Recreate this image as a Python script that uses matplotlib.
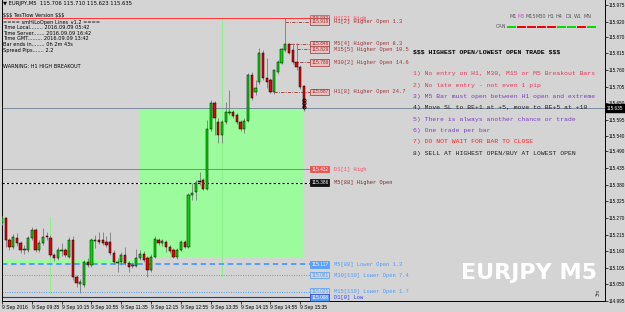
import numpy as np
import matplotlib.pyplot as plt
from matplotlib.patches import Rectangle
from matplotlib.lines import Line2D
from matplotlib import font_manager

plt.rcParams['text.parse_math'] = False

# EURJPY M5 bars, 9 Sep 2016 08:55 .. 15:40
opens = [115.253, 115.270, 115.197, 115.174, 115.204, 115.187, 115.164, 115.164, 115.204, 115.230,
         115.164, 115.187, 115.210, 115.204, 115.147, 115.137, 115.160, 115.164, 115.141, 115.197,
         115.074, 115.051, 115.048, 115.124, 115.114, 115.194, 115.197, 115.197, 115.190, 115.190,
         115.154, 115.121, 115.124, 115.147, 115.121, 115.111, 115.111, 115.137, 115.151, 115.137,
         115.098, 115.141, 115.197, 115.187, 115.190, 115.174, 115.164, 115.141, 115.164, 115.190,
         115.174, 115.346, 115.356, 115.392, 115.396, 115.366, 115.564, 115.651, 115.588, 115.545,
         115.588, 115.617, 115.621, 115.611, 115.588, 115.564, 115.591, 115.743, 115.687, 115.720,
         115.816, 115.733, 115.727, 115.687, 115.753, 115.783, 115.826, 115.846, 115.826, 115.786,
         115.770, 115.706]
highs = [115.276, 115.273, 115.204, 115.217, 115.220, 115.194, 115.180, 115.210, 115.240, 115.237,
         115.197, 115.237, 115.223, 115.213, 115.154, 115.174, 115.187, 115.170, 115.207, 115.210,
         115.081, 115.068, 115.131, 115.137, 115.204, 115.213, 115.223, 115.223, 115.210, 115.223,
         115.164, 115.137, 115.157, 115.174, 115.127, 115.124, 115.167, 115.164, 115.160, 115.144,
         115.151, 115.210, 115.204, 115.200, 115.197, 115.180, 115.170, 115.170, 115.197, 115.197,
         115.353, 115.386, 115.396, 115.422, 115.402, 115.594, 115.660, 115.657, 115.601, 115.594,
         115.654, 115.694, 115.627, 115.617, 115.594, 115.601, 115.750, 115.753, 115.727, 115.833,
         115.826, 115.800, 115.733, 115.760, 115.793, 115.833, 115.932, 115.849, 115.849, 115.849,
         115.776, 115.710]
lows = [115.247, 115.174, 115.164, 115.167, 115.177, 115.154, 115.151, 115.157, 115.197, 115.157,
        115.157, 115.180, 115.197, 115.141, 115.127, 115.131, 115.144, 115.141, 115.137, 115.064,
        115.041, 115.021, 115.041, 115.107, 115.107, 115.170, 115.184, 115.180, 115.174, 115.147,
        115.117, 115.091, 115.114, 115.114, 115.091, 115.104, 115.107, 115.131, 115.124, 115.074,
        115.091, 115.137, 115.180, 115.177, 115.157, 115.154, 115.137, 115.134, 115.160, 115.170,
        115.170, 115.329, 115.329, 115.379, 115.362, 115.362, 115.558, 115.545, 115.518, 115.518,
        115.581, 115.611, 115.601, 115.581, 115.558, 115.551, 115.588, 115.660, 115.677, 115.713,
        115.726, 115.700, 115.684, 115.680, 115.747, 115.780, 115.819, 115.813, 115.780, 115.760,
        115.697, 115.623]
closes = [115.270, 115.197, 115.174, 115.207, 115.187, 115.164, 115.167, 115.204, 115.230, 115.164,
          115.187, 115.207, 115.207, 115.147, 115.137, 115.164, 115.164, 115.147, 115.197, 115.074,
          115.055, 115.058, 115.124, 115.114, 115.197, 115.197, 115.190, 115.187, 115.180, 115.154,
          115.124, 115.124, 115.147, 115.121, 115.107, 115.114, 115.137, 115.151, 115.131, 115.098,
          115.141, 115.200, 115.187, 115.194, 115.174, 115.160, 115.141, 115.164, 115.190, 115.174,
          115.346, 115.353, 115.386, 115.389, 115.366, 115.564, 115.651, 115.601, 115.545, 115.588,
          115.621, 115.621, 115.607, 115.588, 115.564, 115.591, 115.743, 115.667, 115.700, 115.816,
          115.733, 115.720, 115.687, 115.760, 115.786, 115.829, 115.846, 115.816, 115.786, 115.770,
          115.703, 115.635]

time_labels = ['9 Sep 2016', '9 Sep 09:35', '9 Sep 10:15', '9 Sep 10:55', '9 Sep 11:35', '9 Sep 12:15',
               '9 Sep 12:55', '9 Sep 13:35', '9 Sep 14:15', '9 Sep 14:55', '9 Sep 15:35']
time_label_bars = [0, 8, 16, 24, 32, 40, 48, 56, 64, 72, 80]

price_ticks = [115.975, 115.920, 115.870, 115.815, 115.760, 115.705, 115.650, 115.595, 115.540,
               115.490, 115.435, 115.380, 115.325, 115.270, 115.215, 115.160, 115.105, 115.050, 114.995]
bid = 115.635

level_names = ['H1[2] High', 'H1[2] Higher Open 1.3', 'M5[4] Higher Open 8.3', 'M15[5] Higher Open 10.5',
               'M30[2] Higher Open 14.6', 'H1[8] Higher Open 24.7', 'D1[1] High', 'M5[88] Higher Open',
               'M5[88] Lower Open 1.3', 'M30[110] Lower Open 7.4', 'M15[119] Lower Open 1.7', 'D1[0] Low']
level_prices = [115.932, 115.919, 115.846, 115.829, 115.786, 115.687, 115.432, 115.386,
                115.117, 115.081, 115.025, 115.008]
level_start = [0, 76, 77, 79, 78, 73, 0, 0, 0, 0, 0, 0]

zone_top, zone_bottom, zone_start = 115.635, 115.137, 37.1
strip_top, strip_bottom = 115.134, 115.121
vlines_bar = [13, 59]
vlines_from = [115.021, 115.078]
vlines_to = [115.273, 115.932]

rules = ['1) No entry on H1, M30, M15 or M5 Breakout Bars',
         '2) No late entry - not even 1 pip',
         '3) M5 Bar must open between H1 open and extreme',
         '4) Move SL to BE+1 at +5, move to BE+5 at +10',
         '5) There is always another chance or trade',
         '6) One trade per bar',
         '7) DO NOT WAIT FOR BAR TO CLOSE',
         '8) SELL AT HIGHEST OPEN/BUY AT LOWEST OPEN']

info_lines = ['$$$ TesTlow Version $$$', '==== smHiLoOpen Lines_v1.2 ====',
              'Time Local........ 2016.09.09 05:42', 'Time Server....... 2016.09.09 16:42',
              'Time GMT......... 2016.09.09 13:42', 'Bar ends in........ 0h 2m 43s',
              'Spread Pips....... 2.2']

tf_names = ['M1', 'M5', 'M15', 'M30', 'H1', 'H4', 'D1', 'W1', 'MN']
can_up = [1, 0, 0, 0, 0, 1, 1, 0, 1]

BG = '#d4d4d4'
W, H = 625, 312
installed = {f.name for f in font_manager.fontManager.ttflist}
NARROW = 'Liberation Sans Narrow' if 'Liberation Sans Narrow' in installed else 'DejaVu Sans'
SMALL = 'Liberation Sans'


def b(px):
    # screen x pixel -> bar index
    return (px - 1.7) / 3.73


def fx(px):
    return px / W


def fy(py):
    return 1 - py / H


fig = plt.figure(figsize=(6.25, 3.12), dpi=100, facecolor=BG)
ax = fig.add_axes([fx(2), fy(301), 603 / W, 301 / H])
ax.set_facecolor(BG)
ax.set_xlim(b(2), b(605))
ax.set_ylim(114.995, 115.9916)

o = np.array(opens)
c = np.array(closes)
x = np.arange(len(o))
up = c >= o

# zones
ax.add_patch(Rectangle((zone_start, zone_bottom), len(o) - 1 - zone_start, zone_top - zone_bottom,
                       facecolor='#9cfb9c', edgecolor='none', zorder=1))
ax.add_patch(Rectangle((b(2), strip_bottom), zone_start - b(2), strip_top - strip_bottom,
                       facecolor='#9cfb9c', edgecolor='none', zorder=1))
for vb, v0, v1 in zip(vlines_bar, vlines_from, vlines_to):
    ax.plot([vb, vb], [v0, v1], color='#8cf08c', lw=0.8, zorder=1.5)

ax.axhline(bid, color='#7d8ea2', lw=0.7, zorder=2)

# price levels
dd = (0, (4, 1.5, 1, 1.5))
lv_color = ['#ff3030', '#a03232', '#a03232', '#a03232', '#a03232', '#a03232',
            '#f04848', 'black', '#4a9aff', '#4a9aff', '#4a9aff', '#2233cc']
lv_ls = ['-', dd, dd, dd, dd, dd, '-', (0, (2, 2)), (0, (3, 2)), (0, (1, 1.5)), (0, (1, 1.5)), '-']
lv_lw = [0.7, 0.6, 0.6, 0.6, 0.6, 0.6, 0.6, 0.8, 1.3, 0.7, 0.7, 0.8]
lv_txt = ['#ff3a5a', '#a03232', '#a03232', '#a03232', '#a03232', '#a03232',
          '#ff4a6a', '#802828', '#4a9aff', '#4a9aff', '#4a9aff', '#3344ee']
box_fc = ['#e8c0c0', '#e8c0c0', '#e8c0c0', '#e8c0c0', '#e8c0c0', '#e8c0c0',
          '#f05050', '#101010', '#5aa0ff', '#d4d4d4', '#d4d4d4', '#5aa0ff']
box_tc = ['#a03232', '#a03232', '#a03232', '#a03232', '#a03232', '#a03232',
          'white', 'white', 'white', '#4a9aff', '#4a9aff', 'white']
end = b(310)
for i, (name, p, st) in enumerate(zip(level_names, level_prices, level_start)):
    x0 = b(2) if st == 0 else st
    if i == 7:
        ax.plot([x0, end], [p, p], color='white', lw=0.8, zorder=2)
    ax.plot([x0, end], [p, p], color=lv_color[i], ls=lv_ls[i], lw=lv_lw[i], zorder=2.5)
    ax.text(b(311), p, f'{p:.3f}', fontsize=3.4, color=box_tc[i], va='center', ha='left',
            family=SMALL, zorder=6,
            bbox=dict(boxstyle='square,pad=0.2', fc=box_fc[i], ec=lv_color[i], lw=0.5))
    ax.text(b(334), p, name, fontsize=3.9, color=lv_txt[i], va='center', ha='left',
            family='Liberation Mono', zorder=6)

# candles
ax.vlines(x, lows, highs, color='#7a7a7a', lw=0.6, zorder=3)
ax.bar(x, np.maximum(np.abs(c - o), 0.0012), bottom=np.minimum(o, c), width=0.62,
       color=np.where(up, '#00dd00', '#ee0000'), edgecolor='black', lw=0.35, zorder=4)
ax.plot([x[-1]] * 3, [115.660, 115.649, 115.638], 'o', mfc='none', mec='black', ms=2.3, mew=0.6, zorder=5)

# axes styling
for s in ['left', 'right', 'bottom']:
    ax.spines[s].set_color('black')
    ax.spines[s].set_linewidth(0.7)
ax.spines['top'].set_visible(False)
ax.yaxis.tick_right()
ax.set_yticks(price_ticks)
ax.set_yticklabels([f'{t:.3f}' for t in price_ticks], family=SMALL, fontsize=3.3)
ax.set_xticks(time_label_bars)
ax.set_xticklabels(time_labels, ha='left', family=SMALL, fontsize=3.6)
ax.tick_params(axis='both', length=1.8, width=0.5, pad=1.0, colors='black')

fig.text(fx(607), fy(108), f'{bid:.3f}', fontsize=3.3, family=SMALL, color='white', va='center', ha='left',
         bbox=dict(boxstyle='square,pad=0.3', fc='black', ec='black'))

# header and info block
fig.text(fx(3), fy(4), '▼ EURJPY,M5  115.706 115.710 115.623 115.635', fontsize=3.8, va='center')
for k, line in enumerate(info_lines):
    fig.text(fx(3), fy(16 + 5.7 * k), line, fontsize=3.6, va='center')
fig.text(fx(3), fy(67), 'WARNING: H1 HIGH BREAKOUT', fontsize=3.6, va='center')

# rules block
fig.text(fx(413), fy(52), '$$$ HIGHEST OPEN/LOWEST OPEN TRADE $$$', fontsize=4.6,
         family='Liberation Mono', weight='bold', va='center')
rule_colors = ['#e8365c', '#e8365c', '#7b3fbf', '#202020', '#7b3fbf', '#7b3fbf', '#ff2020', '#202020']
for k, (r, col) in enumerate(zip(rules, rule_colors)):
    fig.text(fx(413), fy(74 + 11.3 * k), r, fontsize=4.6, family='Liberation Mono',
             color=col, va='center')

# timeframe selector / CAN row
tf_x = [510, 517, 525, 535, 547, 556, 566, 574, 583]
for name, tx in zip(tf_names, tf_x):
    fig.text(fx(tx), fy(17), name, fontsize=3.5, va='center',
             color='#e040e0' if name == 'M5' else '#555555')
fig.text(fx(496), fy(27), 'CAN', fontsize=3.5, va='center', color='#555555')
for k, u in enumerate(can_up):
    x0 = 508 + 10 * k
    fig.add_artist(Line2D([fx(x0), fx(x0 + 6.5)], [fy(27), fy(27)], color='#00dd00' if u else '#ee0000',
                          lw=1.4, transform=fig.transFigure))

wm_size = 20 if NARROW != 'DejaVu Sans' else 16
fig.text(fx(529), fy(273), 'EURJPY M5', fontsize=wm_size, family=NARROW, color='white', weight='bold',
         ha='center', va='center')
fig.text(fx(598), fy(292), '3m', fontsize=3.3, rotation=90, va='center', ha='center', color='#333333')

fig.savefig('out.png', dpi=100, facecolor=BG)
